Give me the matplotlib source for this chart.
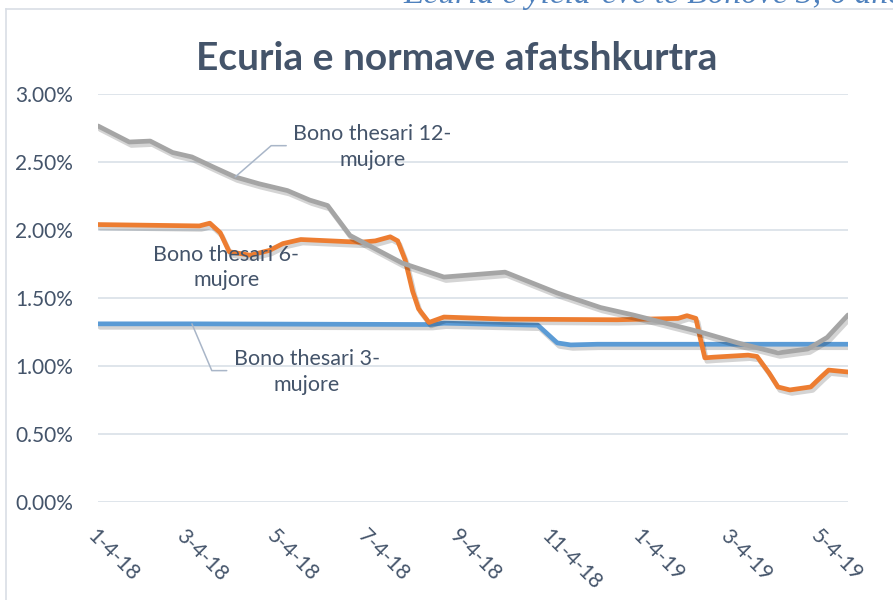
#!/usr/bin/env python3
"""
Ecuria e normave afatshkurtra: yield-et e bonove 3, 6 dhe 12-mujore.

Output: out.png (893x600)
"""

import matplotlib

matplotlib.use("Agg")

import matplotlib.patheffects as pe
import matplotlib.pyplot as plt
import pandas as pd
from matplotlib.lines import Line2D
from matplotlib.ticker import FuncFormatter, MultipleLocator


TITLE = "Ecuria e normave afatshkurtra"
HEADER = "Ecuria e yield-eve te Bonove 3, 6 dhe 12-mujore"

TICK_DATES = [
    "2018-01-04", "2018-03-04", "2018-05-04", "2018-07-04", "2018-09-04",
    "2018-11-04", "2019-01-04", "2019-03-04", "2019-05-04",
]
TICK_LABELS = [
    "1-4-18", "3-4-18", "5-4-18", "7-4-18", "9-4-18",
    "11-4-18", "1-4-19", "3-4-19", "5-4-19",
]

# Bono thesari 3-mujore (%)
BONO_3M_DATES = [
    "2018-01-04", "2018-03-08", "2018-08-15", "2018-08-24", "2018-10-26",
    "2018-11-01", "2018-11-08", "2018-11-17", "2018-12-05", "2019-05-22",
]
BONO_3M_VALUES = [1.31, 1.31, 1.305, 1.315, 1.30, 1.24, 1.17, 1.155, 1.16, 1.16]

# Bono thesari 6-mujore (%)
BONO_6M_DATES = [
    "2018-01-04", "2018-03-13", "2018-03-20", "2018-03-27", "2018-04-02",
    "2018-04-16", "2018-04-29", "2018-05-08", "2018-05-20", "2018-06-29",
    "2018-07-09", "2018-07-19", "2018-07-24", "2018-07-29", "2018-08-03",
    "2018-08-07", "2018-08-14", "2018-08-24", "2018-10-03", "2018-12-18",
    "2019-01-28", "2019-02-03", "2019-02-09", "2019-02-12", "2019-02-15",
    "2019-02-21", "2019-03-16", "2019-03-22", "2019-03-30", "2019-04-05",
    "2019-04-13", "2019-04-27", "2019-05-04", "2019-05-09", "2019-05-22",
]
BONO_6M_VALUES = [
    2.04, 2.03, 2.05, 1.98, 1.84,
    1.815, 1.85, 1.90, 1.93, 1.91,
    1.92, 1.95, 1.92, 1.78, 1.55,
    1.42, 1.32, 1.36, 1.345, 1.34,
    1.35, 1.37, 1.35, 1.20, 1.06,
    1.065, 1.08, 1.07, 0.95, 0.846,
    0.824, 0.846, 0.92, 0.97, 0.956,
]

# Bono thesari 12-mujore (%)
BONO_12M_DATES = [
    "2018-01-04", "2018-01-25", "2018-02-08", "2018-02-23", "2018-03-08",
    "2018-03-23", "2018-04-06", "2018-04-22", "2018-05-11", "2018-05-26",
    "2018-06-07", "2018-06-22", "2018-07-27", "2018-08-24", "2018-10-04",
    "2018-11-08", "2018-12-07", "2018-12-29", "2019-02-12", "2019-03-09",
    "2019-04-05", "2019-04-25", "2019-05-08", "2019-05-22",
]
BONO_12M_VALUES = [
    2.765, 2.647, 2.654, 2.57, 2.537,
    2.46, 2.39, 2.34, 2.29, 2.22,
    2.18, 1.96, 1.757, 1.654, 1.69,
    1.537, 1.43, 1.375, 1.25, 1.17,
    1.096, 1.125, 1.21, 1.375,
]

BLUE = "#5B9BD5"
ORANGE = "#ED7D31"
GRAY = "#A5A5A5"
TEXT = "#44546A"
GRID = "#D9E0E8"
LEADER = "#A9B6C8"
BORDER = "#D9DEE5"
HEADER_COLOR = "#4F81BD"

FONT = ["Lato", "DejaVu Sans"]


def setup_style() -> None:
    plt.rcParams["font.family"] = FONT
    plt.rcParams["text.color"] = TEXT
    plt.rcParams["xtick.color"] = TEXT
    plt.rcParams["ytick.color"] = TEXT


def draw_series(ax, dates, values, color) -> None:
    ax.plot(
        pd.to_datetime(dates),
        values,
        color=color,
        linewidth=3.4,
        solid_joinstyle="round",
        solid_capstyle="round",
        path_effects=[
            pe.SimpleLineShadow(offset=(1.5, -2.5), shadow_color="black", alpha=0.17),
            pe.Normal(),
        ],
    )


def leader_label(ax, text, point, text_pos, angle_b=None) -> None:
    arrowprops = None
    if angle_b is not None:
        arrowprops = dict(
            arrowstyle="-",
            color=LEADER,
            linewidth=1.1,
            connectionstyle=f"angle,angleA=0,angleB={angle_b},rad=0",
            relpos=(0, 0.53),
            shrinkA=3,
            shrinkB=0,
        )
    ax.annotate(
        text,
        xy=point,
        xytext=text_pos,
        ha="center",
        va="center",
        multialignment="center",
        linespacing=1.35,
        fontsize=15.5,
        color=TEXT,
        arrowprops=arrowprops,
        zorder=5,
    )


def main() -> int:
    setup_style()
    fig = plt.figure(figsize=(8.93, 6.0), dpi=100)
    ax = fig.add_axes([98 / 893, 1 - 502 / 600, 750 / 893, 408 / 600])

    draw_series(ax, BONO_3M_DATES, BONO_3M_VALUES, BLUE)
    draw_series(ax, BONO_6M_DATES, BONO_6M_VALUES, ORANGE)
    draw_series(ax, BONO_12M_DATES, BONO_12M_VALUES, GRAY)

    ax.set_ylim(0, 3.0)
    ax.set_xlim(pd.Timestamp(BONO_12M_DATES[0]), pd.Timestamp(BONO_12M_DATES[-1]))
    ax.yaxis.set_major_locator(MultipleLocator(0.5))
    ax.yaxis.set_major_formatter(FuncFormatter(lambda v, _: f"{v:.2f}%"))
    ax.set_xticks(pd.to_datetime(TICK_DATES))
    ax.set_xticklabels(
        TICK_LABELS, rotation=-45, ha="left", va="top", rotation_mode="anchor"
    )
    ax.tick_params(axis="y", length=0, pad=18, labelsize=15)
    ax.tick_params(axis="x", length=0, pad=17, labelsize=15)
    for spine in ax.spines.values():
        spine.set_visible(False)
    ax.yaxis.grid(True, color=GRID, linewidth=1.2)
    ax.set_axisbelow(True)

    leader_label(
        ax,
        "Bono thesari 12-\nmujore",
        (pd.Timestamp(BONO_12M_DATES[6]), BONO_12M_VALUES[6]),
        (pd.Timestamp("2018-07-07"), 2.61),
        angle_b=41,
    )
    leader_label(
        ax,
        "Bono thesari 6-\nmujore",
        (pd.Timestamp(BONO_6M_DATES[5]), BONO_6M_VALUES[5]),
        (pd.Timestamp("2018-03-31"), 1.724),
    )
    leader_label(
        ax,
        "Bono thesari 3-\nmujore",
        (pd.Timestamp(BONO_3M_DATES[1]), BONO_3M_VALUES[1]),
        (pd.Timestamp("2018-05-24"), 0.956),
        angle_b=113,
    )

    fig.text(
        457 / 893, 1 - 58 / 600, TITLE,
        ha="center", va="center", fontsize=28, fontweight="bold", color=TEXT,
    )
    # header of the page, mostly cut off at the top edge (as in the source)
    fig.text(
        403 / 893, 1 - 3 / 600, HEADER,
        ha="left", va="baseline", fontsize=24, style="italic",
        family=["Liberation Serif", "DejaVu Serif"], color=HEADER_COLOR,
    )

    # chart-area border (only top and left edges are in frame)
    fig.add_artist(Line2D([6 / 893, 6 / 893], [0, 1 - 9 / 600], color=BORDER, lw=1.2))
    fig.add_artist(Line2D([6 / 893, 1], [1 - 9 / 600, 1 - 9 / 600], color=BORDER, lw=1.2))

    fig.savefig("out.png", dpi=100, facecolor="white")
    plt.close(fig)
    return 0


if __name__ == "__main__":
    raise SystemExit(main())
